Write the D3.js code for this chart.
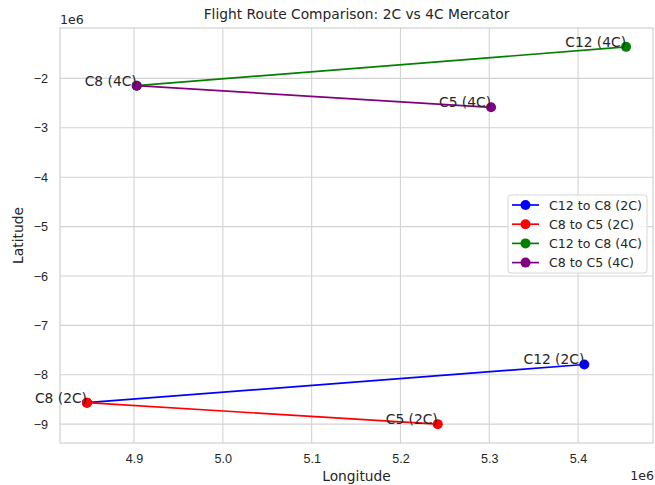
<!DOCTYPE html>
<html>
<head>
<meta charset="utf-8">
<style>
    body { margin: 0; background: #fff; }
    svg { font-family: "DejaVu Sans", sans-serif; }
    .grid line { stroke: #d3d3d3; stroke-width: 1.1; }
    .frame { fill: none; stroke: #cccccc; stroke-width: 1.1; }
    text { fill: #262626; }
</style>
</head>
<body>
<script src="https://cdn.jsdelivr.net/npm/d3@7"></script>
<script>
    var width = 655,
        height = 485,
        margin = { top: 28, right: 2, bottom: 42, left: 60 };

    // cities and positions (metres, Mercator)
    var cities = ["C12", "C8", "C5"];
    var lon2C = [5.407e6, 4.847e6, 5.242e6];
    var lat2C = [-7.792e6, -8.565e6, -9.0e6];
    var lon4C = [5.454e6, 4.903e6, 5.302e6];
    var lat4C = [-1.361e6, -2.147e6, -2.585e6];

    var xTicks = [4.9e6, 5.0e6, 5.1e6, 5.2e6, 5.3e6, 5.4e6];
    var yTicks = [-2e6, -3e6, -4e6, -5e6, -6e6, -7e6, -8e6, -9e6];

    // route = [from, to] indexes into cities
    var routeNames = ["C12 to C8 (2C)", "C8 to C5 (2C)", "C12 to C8 (4C)", "C8 to C5 (4C)"];
    var routeColors = ["#0000ff", "#ff0000", "#008000", "#800080"];
    var routeSets = ["2C", "2C", "4C", "4C"];
    var routeStops = [[0, 1], [1, 2], [0, 1], [1, 2]];

    var sets = { "2C": { lon: lon2C, lat: lat2C }, "4C": { lon: lon4C, lat: lat4C } };

    var allLon = lon2C.concat(lon4C),
        allLat = lat2C.concat(lat4C);

    // matplotlib style 5% margins
    function pad(ext) {
        var r = ext[1] - ext[0];
        return [ext[0] - 0.05 * r, ext[1] + 0.05 * r];
    }

    var x = d3.scaleLinear()
        .domain(pad(d3.extent(allLon)))
        .range([margin.left, width - margin.right]);

    var y = d3.scaleLinear()
        .domain(pad(d3.extent(allLat)))
        .range([height - margin.bottom, margin.top]);

    var svg = d3.select("body").append("svg")
        .attr("width", width)
        .attr("height", height);

    var fmt = function (d) { return d3.format(".1f")(d / 1e6); };
    var fmtY = function (d) { return d3.format("d")(Math.round(d / 1e6)); };

    // grid
    svg.append("g").attr("class", "grid")
        .selectAll("line").data(xTicks).enter().append("line")
        .attr("x1", function (d) { return x(d); })
        .attr("x2", function (d) { return x(d); })
        .attr("y1", margin.top)
        .attr("y2", height - margin.bottom);

    svg.append("g").attr("class", "grid")
        .selectAll("line").data(yTicks).enter().append("line")
        .attr("y1", function (d) { return y(d); })
        .attr("y2", function (d) { return y(d); })
        .attr("x1", margin.left)
        .attr("x2", width - margin.right);

    svg.append("rect").attr("class", "frame")
        .attr("x", margin.left)
        .attr("y", margin.top)
        .attr("width", width - margin.left - margin.right)
        .attr("height", height - margin.top - margin.bottom);

    // axes (tick marks hidden, like seaborn whitegrid)
    var xAxis = d3.axisBottom(x).tickValues(xTicks).tickFormat(fmt).tickSize(0).tickPadding(11);
    var yAxis = d3.axisLeft(y).tickValues(yTicks).tickFormat(fmtY).tickSize(0).tickPadding(12);

    svg.append("g")
        .attr("transform", "translate(0," + (height - margin.bottom) + ")")
        .call(xAxis)
        .call(function (g) { g.select(".domain").remove(); })
        .selectAll("text").style("font-size", "12.6px").attr("fill", "#262626");

    svg.append("g")
        .attr("transform", "translate(" + margin.left + ",0)")
        .call(yAxis)
        .call(function (g) { g.select(".domain").remove(); })
        .selectAll("text").style("font-size", "12.6px").attr("fill", "#262626");

    // routes
    routeNames.forEach(function (name, i) {
        var s = sets[routeSets[i]];
        var pts = routeStops[i].map(function (k) { return [s.lon[k], s.lat[k]]; });
        svg.append("path")
            .attr("d", d3.line().x(function (p) { return x(p[0]); }).y(function (p) { return y(p[1]); })(pts))
            .attr("fill", "none")
            .attr("stroke", routeColors[i])
            .attr("stroke-width", 1.7);
        svg.selectAll(null).data(pts).enter().append("circle")
            .attr("cx", function (p) { return x(p[0]); })
            .attr("cy", function (p) { return y(p[1]); })
            .attr("r", 5)
            .attr("fill", routeColors[i]);
    });

    // city labels
    ["2C", "4C"].forEach(function (k) {
        var s = sets[k];
        cities.forEach(function (c, i) {
            svg.append("text")
                .attr("x", x(s.lon[i]))
                .attr("y", y(s.lat[i]))
                .attr("text-anchor", "end")
                .style("font-size", "13.8px")
                .text(c + " (" + k + ")");
        });
    });

    // titles and labels
    svg.append("text")
        .attr("x", (margin.left + width - margin.right) / 2)
        .attr("y", 19)
        .attr("text-anchor", "middle")
        .style("font-size", "13.8px")
        .text("Flight Route Comparison: 2C vs 4C Mercator");

    svg.append("text")
        .attr("x", (margin.left + width - margin.right) / 2)
        .attr("y", 481)
        .attr("text-anchor", "middle")
        .style("font-size", "13.8px")
        .text("Longitude");

    svg.append("text")
        .attr("transform", "translate(23," + (margin.top + height - margin.bottom) / 2 + ") rotate(-90)")
        .attr("text-anchor", "middle")
        .style("font-size", "13.8px")
        .text("Latitude");

    svg.append("text")
        .attr("x", margin.left)
        .attr("y", 24)
        .style("font-size", "12.6px")
        .text("1e6");

    svg.append("text")
        .attr("x", width - 1)
        .attr("y", 480)
        .attr("text-anchor", "end")
        .style("font-size", "12.6px")
        .text("1e6");

    // legend
    var legend = svg.append("g").attr("transform", "translate(508,195)");
    legend.append("rect")
        .attr("width", 139)
        .attr("height", 78)
        .attr("rx", 3)
        .attr("fill", "#fff")
        .attr("fill-opacity", 0.8)
        .attr("stroke", "#d6d6d6");

    var item = legend.selectAll(".item").data(routeNames).enter().append("g")
        .attr("transform", function (d, i) { return "translate(0," + (10 + 19.2 * i) + ")"; });
    item.append("line")
        .attr("x1", 4).attr("x2", 31)
        .attr("stroke", function (d, i) { return routeColors[i]; })
        .attr("stroke-width", 1.7);
    item.append("circle")
        .attr("cx", 17.5).attr("r", 5)
        .attr("fill", function (d, i) { return routeColors[i]; });
    item.append("text")
        .attr("x", 41)
        .attr("y", 4.5)
        .style("font-size", "12.6px")
        .text(function (d) { return d; });
</script>
</body>
</html>
